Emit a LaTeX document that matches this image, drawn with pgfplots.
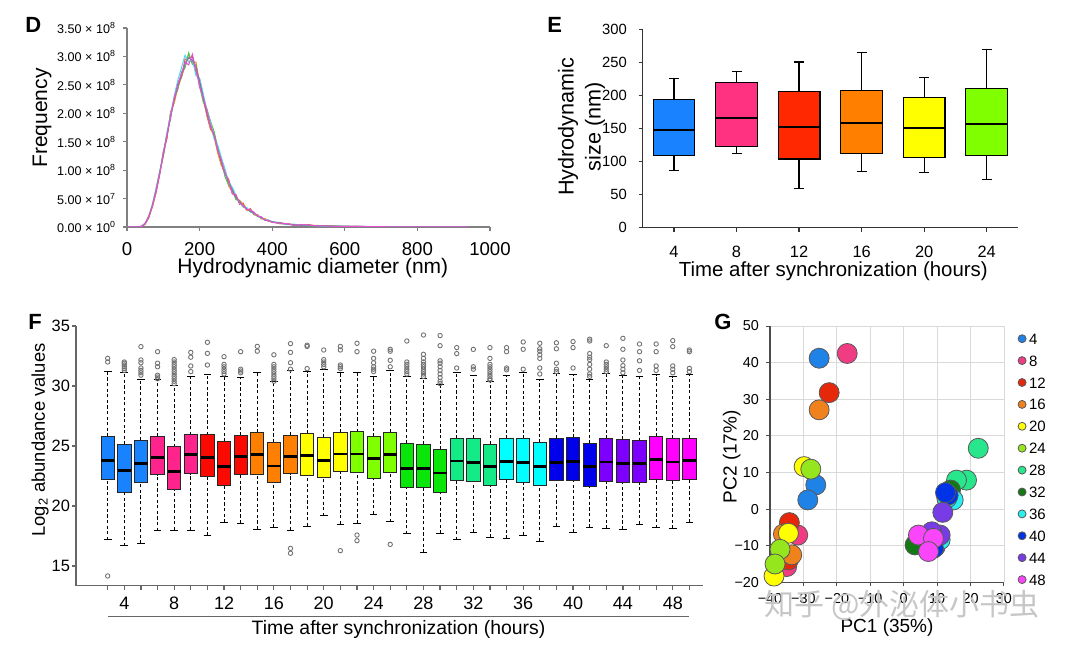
\documentclass[border=0pt]{standalone}
\usepackage{fontspec}
\setmainfont{Liberation Sans}
\newfontfamily\cjk{Noto Sans CJK SC}
\usepackage{graphicx}
\usepackage{pgfplots}
\pgfplotsset{compat=1.18}
\usepackage{pgfplotstable}
\usepgfplotslibrary{statistics}

\definecolor{c1}{RGB}{25,130,255}
\definecolor{c2}{RGB}{255,35,140}
\definecolor{c3}{RGB}{250,10,0}
\definecolor{c4}{RGB}{255,128,0}
\definecolor{c5}{RGB}{255,255,0}
\definecolor{c6}{RGB}{128,255,0}
\definecolor{c7}{RGB}{10,230,10}
\definecolor{c8}{RGB}{20,235,135}
\definecolor{c9}{RGB}{0,255,255}
\definecolor{c10}{RGB}{0,0,235}
\definecolor{c11}{RGB}{125,0,255}
\definecolor{c12}{RGB}{255,0,255}
\definecolor{e12}{RGB}{255,40,0}
\definecolor{e8}{RGB}{255,50,130}
\definecolor{g4}{RGB}{30,130,230}
\definecolor{g8}{RGB}{240,60,130}
\definecolor{g12}{RGB}{230,40,10}
\definecolor{g16}{RGB}{240,130,30}
\definecolor{g20}{RGB}{255,255,0}
\definecolor{g24}{RGB}{150,230,30}
\definecolor{g28}{RGB}{40,230,140}
\definecolor{g32}{RGB}{20,120,20}
\definecolor{g36}{RGB}{40,240,240}
\definecolor{g40}{RGB}{0,50,230}
\definecolor{g44}{RGB}{120,60,230}
\definecolor{g48}{RGB}{250,70,250}
\definecolor{dr}{RGB}{230,60,60}
\definecolor{do}{RGB}{225,150,40}
\definecolor{dg}{RGB}{70,200,80}
\definecolor{dc}{RGB}{80,215,235}
\definecolor{dp}{RGB}{140,110,160}
\definecolor{dm}{RGB}{230,80,210}

\pgfplotstableread{
x r o g c p m
0 0 0 0 0 0 0
10 0 0 0 0 0 0
20 0 0 0 0 0 0
30 0 0 0 0 0 0
40 0.00 0.01 0.01 0.02 0.01 0.01
50 0.05 0.05 0.07 0.06 0.06 0.06
60 0.16 0.20 0.19 0.17 0.18 0.18
70 0.36 0.35 0.40 0.39 0.38 0.37
80 0.60 0.62 0.66 0.68 0.64 0.63
90 0.92 0.94 0.98 0.97 0.95 0.93
100 1.33 1.24 1.25 1.30 1.27 1.29
110 1.55 1.58 1.64 1.66 1.61 1.62
120 2.02 2.00 1.90 1.98 1.94 1.93
130 2.20 2.18 2.28 2.30 2.24 2.27
140 2.55 2.44 2.42 2.58 2.47 2.50
150 2.62 2.64 2.72 2.80 2.66 2.70
160 2.95 2.82 2.80 3.02 2.87 2.90
170 2.96 3.05 3.06 2.90 2.98 2.85
180 3.00 2.88 2.86 2.95 2.93 3.04
190 2.72 2.90 2.85 2.66 2.82 2.78
200 2.60 2.52 2.48 2.62 2.56 2.46
210 2.30 2.22 2.20 2.35 2.26 2.28
220 1.96 1.98 2.08 2.05 2.00 2.06
230 1.72 1.75 1.86 1.84 1.78 1.78
240 1.64 1.58 1.68 1.55 1.61 1.62
250 1.32 1.30 1.40 1.44 1.37 1.34
260 1.10 1.08 1.20 1.22 1.14 1.18
270 0.92 0.99 0.88 1.02 0.95 0.94
280 0.84 0.72 0.74 0.80 0.79 0.82
290 0.60 0.62 0.68 0.70 0.65 0.58
300 0.55 0.50 0.48 0.56 0.52 0.57
310 0.40 0.47 0.46 0.42 0.45 0.43
320 0.42 0.40 0.35 0.36 0.37 0.37
330 0.30 0.29 0.33 0.34 0.31 0.31
340 0.32 0.29 0.26 0.27 0.28 0.30
350 0.22 0.21 0.25 0.23 0.24 0.26
360 0.21 0.22 0.18 0.20 0.19 0.19
370 0.15 0.14 0.17 0.16 0.17 0.18
380 0.14 0.15 0.12 0.13 0.12 0.12
390 0.10 0.10 0.12 0.11 0.11 0.12
400 0.09 0.09 0.08 0.10 0.09 0.08
420 0.06 0.06 0.08 0.07 0.07 0.07
440 0.06 0.05 0.05 0.04 0.05 0.06
460 0.04 0.04 0.03 0.05 0.04 0.03
480 0.03 0.035 0.04 0.03 0.03 0.04
500 0.04 0.03 0.02 0.03 0.035 0.035
520 0.02 0.03 0.025 0.02 0.02 0.02
540 0.025 0.02 0.02 0.015 0.02 0.02
560 0.015 0.015 0.02 0.01 0.015 0.015
580 0.01 0.02 0.015 0.015 0.012 0.01
600 0.012 0.01 0.01 0.015 0.012 0.012
620 0.01 0.012 0.008 0.01 0.01 0.01
640 0.008 0.01 0.01 0.008 0.009 0.01
660 0.008 0.006 0.008 0.01 0.007 0.008
680 0.006 0.007 0.005 0.006 0.006 0.006
700 0.005 0.004 0.006 0.005 0.005 0.005
720 0.004 0.004 0.003 0.004 0.004 0.004
740 0.003 0.003 0.003 0.002 0.003 0.003
760 0.003 0.002 0.003 0.003 0.002 0.003
780 0.002 0.002 0.002 0.002 0.002 0.002
800 0.002 0.001 0.002 0.002 0.001 0.002
820 0.001 0.001 0.001 0.001 0.001 0.001
840 0.001 0.001 0.001 0.001 0.001 0.001
860 0.001 0 0.001 0 0.001 0.001
880 0 0 0 0 0 0
900 0 0 0 0 0 0
920 0 0 0 0 0 0
940 0 0 0 0 0 0
}\dtable

\pgfplotsset{
  boxplot/draw/lower whisker/.code={%
    \draw[/pgfplots/boxplot/every whisker/.try]
      (boxplot cs:\pgfplotsboxplotvalue{lower whisker}) --
      (boxplot cs:\pgfplotsboxplotvalue{lower quartile});
    \draw[/pgfplots/boxplot/every cap/.try]
      (boxplot whisker cs:\pgfplotsboxplotvalue{lower whisker},0) --
      (boxplot whisker cs:\pgfplotsboxplotvalue{lower whisker},1);
  },
  boxplot/draw/upper whisker/.code={%
    \draw[/pgfplots/boxplot/every whisker/.try]
      (boxplot cs:\pgfplotsboxplotvalue{upper quartile}) --
      (boxplot cs:\pgfplotsboxplotvalue{upper whisker});
    \draw[/pgfplots/boxplot/every cap/.try]
      (boxplot whisker cs:\pgfplotsboxplotvalue{upper whisker},0) --
      (boxplot whisker cs:\pgfplotsboxplotvalue{upper whisker},1);
  },
}

\newcommand{\FB}[7]{\addplot[boxplot prepared={draw position=#1,lower whisker=#3,lower quartile=#4,median=#5,upper quartile=#6,upper whisker=#7}, boxplot/every box/.style={fill=#2,draw=black!85,line width=0.45pt}] coordinates {};}
\newcommand{\EB}[7]{\addplot[boxplot prepared={draw position=#1,lower whisker=#3,lower quartile=#4,median=#5,upper quartile=#6,upper whisker=#7}, boxplot/every box/.style={fill=#2,draw=black,line width=0.6pt}] coordinates {};}

\begin{document}
\begin{tikzpicture}
\useasboundingbox (0,0) rectangle (540pt,325.5pt);

% ---------------- Panel D ----------------
\begin{axis}[at={(63.5pt,212pt)}, anchor=south west, scale only axis,
  width=181.5pt, height=99.5pt,
  xmin=0, xmax=1000, ymin=0, ymax=3.5,
  axis lines=left, axis line style={-, gray, line width=0.7pt},
  xtick={0,200,400,600,800,1000}, xticklabels={0,200,400,600,800,1000},
  ytick={0,0.5,1,1.5,2,2.5,3,3.5},
  yticklabels={{0.00 × 10\textsuperscript{0}},{5.00 × 10\textsuperscript{7}},{1.00 × 10\textsuperscript{8}},{1.50 × 10\textsuperscript{8}},{2.00 × 10\textsuperscript{8}},{2.50 × 10\textsuperscript{8}},{3.00 × 10\textsuperscript{8}},{3.50 × 10\textsuperscript{8}}},
  scaled ticks=false,
  tick align=outside, major tick length=2pt, tick style={gray, line width=0.6pt},
  x tick label style={font=\fontsize{9.3}{10}\selectfont, yshift=-2.3pt},
  y tick label style={font=\fontsize{6.3}{7}\selectfont},
  xlabel={Hydrodynamic diameter (nm)}, ylabel={Frequency},
  label style={font=\fontsize{10.5}{11}\selectfont},
  xlabel style={at={(axis description cs:0.512,-0.205)}, anchor=center},
  ylabel style={at={(axis description cs:-0.234,0.548)}, anchor=center},
]
\addplot[dr, line width=0.5pt] table[x=x,y=r] {\dtable};
\addplot[do, line width=0.5pt] table[x=x,y=o] {\dtable};
\addplot[dg, line width=0.5pt] table[x=x,y=g] {\dtable};
\addplot[dc, line width=0.5pt] table[x=x,y=c] {\dtable};
\addplot[dp, line width=0.5pt] table[x=x,y=p] {\dtable};
\addplot[dm, line width=0.5pt] table[x=x,y=m] {\dtable};
\end{axis}

% ---------------- Panel E ----------------
\begin{axis}[at={(321.35pt,211.65pt)}, anchor=south west, scale only axis,
  width=187.65pt, height=99.2pt,
  xmin=0.5, xmax=6.5, ymin=0, ymax=300,
  axis lines=left, axis line style={-, black!80, line width=0.6pt},
  xtick={1,...,6}, xticklabels={4,8,12,16,20,24}, ytick={0,50,...,300},
  tick align=outside, major tick length=2pt, tick style={black!80, line width=0.6pt},
  /pgf/number format/assume math mode=true,
  x tick label style={font=\fontsize{8.2}{9}\selectfont, yshift=-3.8pt},
  y tick label style={font=\fontsize{7.4}{8}\selectfont, xshift=-2.4pt},
  xlabel={Time after synchronization (hours)},
  ylabel={Hydrodynamic\\size (nm)},
  xlabel style={font=\fontsize{10.2}{11}\selectfont, at={(axis description cs:0.508,-0.217)}, anchor=center},
  ylabel style={font=\fontsize{10.8}{13.5}\selectfont, align=center, at={(axis description cs:-0.163,0.508)}, anchor=center},
  boxplot/draw direction=y,
  boxplot/box extend=0.667, boxplot/whisker extend=0.16,
  boxplot/every median/.style={black, line width=0.8pt},
  boxplot/every whisker/.style={black, line width=0.6pt},
  boxplot/every cap/.style={black, line width=0.6pt},
]
\EB{1}{c1}{87}{109}{148}{194}{225}
\EB{2}{e8}{112}{122.5}{166}{219}{236.5}
\EB{3}{e12}{59}{104}{152}{206}{250.6}
\EB{4}{c4}{85}{112}{158}{208}{264.7}
\EB{5}{c5}{83}{106}{151}{197}{227}
\EB{6}{c6}{73}{109}{157}{211}{270}
\end{axis}

% ---------------- Panel F ----------------
\begin{axis}[at={(38pt,32.65pt)}, anchor=south west, scale only axis,
  width=313.5pt, height=129.85pt,
  xmin=-0.907, xmax=36.82, ymin=13.36, ymax=35,
  axis lines=left, axis line style={-, black!60, line width=0.7pt},
  xtick={1,...,36},
  xticklabels={{},4,{},{},8,{},{},12,{},{},16,{},{},20,{},{},24,{},{},28,{},{},32,{},{},36,{},{},40,{},{},44,{},{},48,{}},
  ytick={15,20,25,30,35},
  tick align=outside, major tick length=2pt, tick style={black!60, line width=0.6pt},
  /pgf/number format/assume math mode=true,
  x tick label style={font=\fontsize{9}{10}\selectfont},
  y tick label style={font=\fontsize{8.2}{9}\selectfont, xshift=2.5pt},
  ylabel={Log\textsubscript{2} abundance values},
  ylabel style={font=\fontsize{9.2}{10}\selectfont, at={(axis description cs:-0.0574,0.561)}, anchor=center},
  clip=false,
  boxplot/draw direction=y,
  boxplot/box extend=0.8, boxplot/whisker extend=0.46,
  boxplot/every median/.style={black, line width=1.4pt},
  boxplot/every whisker/.style={black, dash pattern=on 1.6pt off 1.2pt, line width=0.45pt},
  boxplot/every cap/.style={black, line width=0.5pt},
]
\FB{1}{c1}{17.17}{22.22}{23.78}{25.78}{31.19}
\FB{2}{c1}{16.69}{21.14}{22.97}{25.11}{31.11}
\FB{3}{c1}{16.89}{21.94}{23.56}{25.50}{30.58}
\FB{4}{c2}{17.94}{22.61}{24.06}{25.78}{30.50}
\FB{5}{c2}{18.00}{21.42}{22.86}{24.94}{30.00}
\FB{6}{c2}{18.00}{22.69}{24.28}{25.94}{30.78}
\FB{7}{c3}{17.53}{22.50}{24.03}{25.94}{30.92}
\FB{8}{c3}{18.64}{21.69}{23.28}{25.36}{30.83}
\FB{9}{c3}{18.56}{22.67}{24.14}{25.89}{30.70}
\FB{10}{c4}{18.06}{22.67}{24.31}{26.14}{31.11}
\FB{11}{c4}{18.22}{21.97}{23.33}{25.31}{30.36}
\FB{12}{c4}{18.00}{22.69}{24.14}{25.92}{31.25}
\FB{13}{c5}{18.33}{22.58}{24.19}{26.06}{31.20}
\FB{14}{c5}{19.17}{22.39}{23.81}{25.72}{31.39}
\FB{15}{c5}{18.50}{22.86}{24.33}{26.11}{31.14}
\FB{16}{c6}{18.56}{22.81}{24.33}{26.19}{31.11}
\FB{17}{c6}{19.33}{22.31}{23.94}{25.78}{30.83}
\FB{18}{c6}{18.67}{22.83}{24.28}{26.17}{31.28}
\FB{19}{c7}{17.67}{21.53}{23.14}{25.22}{30.83}
\FB{20}{c7}{16.14}{21.53}{23.14}{25.11}{30.64}
\FB{21}{c7}{17.72}{21.11}{22.75}{24.72}{30.14}
\FB{22}{c8}{17.17}{22.11}{23.75}{25.64}{31.11}
\FB{23}{c8}{17.78}{22.08}{23.61}{25.67}{30.89}
\FB{24}{c8}{17.39}{21.72}{23.28}{25.17}{30.36}
\FB{25}{c9}{17.28}{22.22}{23.72}{25.64}{30.89}
\FB{26}{c9}{17.58}{21.97}{23.61}{25.61}{31.11}
\FB{27}{c9}{17.03}{21.72}{23.28}{25.28}{30.58}
\FB{28}{c10}{18.33}{22.17}{23.64}{25.67}{31.00}
\FB{29}{c10}{17.78}{22.14}{23.72}{25.72}{30.92}
\FB{30}{c10}{18.22}{21.61}{23.28}{25.22}{30.56}
\FB{31}{c11}{18.11}{22.03}{23.67}{25.64}{31.00}
\FB{32}{c11}{18.06}{21.94}{23.56}{25.56}{30.89}
\FB{33}{c11}{18.50}{21.94}{23.56}{25.44}{30.78}
\FB{34}{c12}{18.19}{22.25}{23.89}{25.78}{30.92}
\FB{35}{c12}{18.14}{22.14}{23.67}{25.64}{30.78}
\FB{36}{c12}{18.61}{22.22}{23.81}{25.67}{30.92}
\addplot[only marks, mark=o, mark size=1.1pt, black!55, line width=0.45pt] coordinates {
(1,32.3) (1,32.0) (1,14.17)
(2,31.3) (2,31.45) (2,31.6) (2,31.75) (2,31.9) (2,32.0)
(3,33.28) (3,32.17) (3,31.94) (3,31.5) (3,31.3) (3,31.1) (3,30.9)
(4,32.86) (4,31.9) (4,31.6) (4,30.9) (4,30.75) (4,30.6)
(5,32.2) (5,32.0) (5,31.8) (5,31.6) (5,31.4) (5,31.2) (5,31.0) (5,30.8) (5,30.6) (5,30.4) (5,30.2)
(6,32.8) (6,32.4) (6,31.67) (6,31.2)
(7,33.64) (7,32.72) (7,31.75)
(8,32.44) (8,31.8) (8,31.6) (8,31.4) (8,31.2) (8,31.0)
(9,32.86) (9,31.4) (9,31.25) (9,31.1)
(10,33.3) (10,32.9)
(11,32.6) (11,31.8) (11,31.6) (11,31.4) (11,31.2) (11,31.0) (11,30.8) (11,30.6) (11,30.4)
(12,33.53) (12,32.8) (12,31.94) (12,31.4) (12,16.47) (12,16.06)
(13,33.4) (13,33.3) (13,31.45)
(14,33.0) (14,32.2) (14,32.0) (14,31.8) (14,31.6)
(15,33.3) (15,33.0) (15,31.75) (15,31.6) (15,31.45) (15,16.28)
(16,33.56) (16,32.86) (16,17.58) (16,17.11)
(17,32.9) (17,32.3) (17,31.94) (17,31.6) (17,31.4) (17,31.2)
(18,33.06) (18,32.9) (18,32.14) (18,31.6) (18,16.8)
(19,33.75) (19,32.0) (19,31.8) (19,31.6) (19,31.4) (19,31.2) (19,31.0)
(20,34.25) (20,32.64) (20,32.3) (20,32.0) (20,31.8) (20,31.6) (20,31.4) (20,31.2) (20,31.0) (20,30.8)
(21,34.2) (21,33.36) (21,32.1) (21,31.9) (21,31.6) (21,31.3) (21,31.0) (21,30.7) (21,30.4) (21,30.2)
(22,33.2) (22,32.7) (22,31.5)
(23,33.05) (23,31.6) (23,31.4)
(24,33.2) (24,32.3) (24,31.8) (24,31.6) (24,31.4) (24,31.2) (24,31.0) (24,30.8) (24,30.6) (24,30.5)
(25,33.2) (25,32.86) (25,31.5) (25,31.35)
(26,33.67) (26,33.06) (26,31.4)
(27,33.56) (27,33.1) (27,32.9) (27,32.6) (27,32.3) (27,31.5) (27,31.0)
(28,33.6) (28,33.1) (28,31.9) (28,31.4) (28,31.2)
(29,33.7) (29,33.2) (29,31.5)
(30,33.9) (30,33.75) (30,32.7) (30,32.4) (30,32.2) (30,31.8) (30,31.4) (30,31.0) (30,30.8)
(31,33.36) (31,32.0) (31,31.8) (31,31.6) (31,31.4) (31,31.2)
(32,33.97) (32,33.06) (32,32.17) (32,31.7) (32,31.4) (32,31.1)
(33,33.5) (33,32.86) (33,32.1) (33,31.3)
(34,33.5) (34,32.86) (34,31.67) (34,31.3)
(35,33.78) (35,33.28) (35,31.67) (35,31.4) (35,31.1)
(36,33.0) (36,32.86) (36,31.47) (36,31.2)
};
\draw[black!60, line width=0.7pt] (axis cs:1,10.78) -- (axis cs:36,10.78);
\node[font=\fontsize{9.7}{10}\selectfont] at (axis cs:18.5,9.67) {Time after synchronization (hours)};
\end{axis}

% ---------------- Panel G ----------------
\begin{axis}[at={(385pt,34.35pt)}, anchor=south west, scale only axis,
  width=117pt, height=128.15pt,
  xmin=-40, xmax=30, ymin=-20, ymax=50,
  axis lines=left, axis line style={-, black!70, line width=0.6pt},
  grid=major, grid style={gray!30, line width=0.4pt},
  xtick={-40,-30,...,30}, xticklabels={−40,−30,−20,−10,0,10,20,30},
  ytick={-20,-10,...,50}, yticklabels={−20,−10,0,10,20,30,40,50},
  tick align=outside, major tick length=2pt, tick style={black!70, line width=0.5pt},
  tick label style={font=\fontsize{7.2}{8}\selectfont},
  xlabel={PC1 (35\%)}, ylabel={PC2 (17\%)},
  label style={font=\fontsize{9.5}{10}\selectfont},
  xlabel style={at={(axis description cs:0.5,-0.178)}, anchor=center},
  ylabel style={at={(axis description cs:-0.164,0.49)}, anchor=center},
  clip=false,
  legend style={at={(1.0585,0.9735)}, anchor=north west, draw=none, fill=none,
    inner sep=0pt, row sep=5.45pt, column sep=1.5pt,
    font=\fontsize{7.5}{8}\selectfont,
    nodes={inner sep=0pt, text height=5.5pt, text depth=0pt}},
  legend cell align=left,
  legend image code/.code={\draw[#1, mark size=2pt] plot coordinates {(0pt,0pt)};},
  gmark/.style={only marks, mark=*, mark size=5pt, mark options={fill=#1, draw=black!65, line width=0.4pt}},
]
\addplot[gmark=g4] coordinates {(-25.3,41.2) (-26.3,6.6) (-28.7,2.5)};
\addlegendentry{4}
\addplot[gmark=g8] coordinates {(-16.9,42.5) (-31.7,-7.1) (-35.0,-15.7)};
\addlegendentry{8}
\addplot[gmark=g12] coordinates {(-22.3,31.8) (-34.2,-3.7) (-34.5,-13.9)};
\addlegendentry{12}
\addplot[gmark=g16] coordinates {(-25.3,27.1) (-36.0,-6.8) (-33.5,-12.5)};
\addlegendentry{16}
\addplot[gmark=g20] coordinates {(-29.8,11.6) (-34.5,-6.6) (-38.8,-18.3)};
\addlegendentry{20}
\addplot[gmark=g24] coordinates {(-27.8,10.9) (-37.0,-11.0) (-38.5,-15.0)};
\addlegendentry{24}
\addplot[gmark=g28] coordinates {(22.3,16.6) (18.8,7.9) (15.8,7.9)};
\addlegendentry{28}
\addplot[gmark=g32] coordinates {(14.0,5.2) (3.4,-9.8) (9.4,-10.3)};
\addlegendentry{32}
\addplot[gmark=g36] coordinates {(14.8,2.5) (10.9,-8.4) (12.9,3.0)};
\addlegendentry{36}
\addplot[gmark=g40] coordinates {(13.3,3.8) (8.9,-10.7) (12.5,4.5)};
\addlegendentry{40}
\addplot[gmark=g44] coordinates {(11.7,-0.9) (10.9,-7.1) (8.4,-6.2)};
\addlegendentry{44}
\addplot[gmark=g48] coordinates {(4.4,-7.1) (8.9,-8.0) (7.4,-11.6)};
\addlegendentry{48}
\end{axis}

% panel letters
\node[font=\bfseries\fontsize{11}{12}\selectfont] at (16.6pt,312.8pt) {D};
\node[font=\bfseries\fontsize{11}{12}\selectfont] at (277.3pt,312.8pt) {E};
\node[font=\bfseries\fontsize{11}{12}\selectfont] at (17.5pt,164.7pt) {F};
\node[font=\bfseries\fontsize{11}{12}\selectfont] at (361.5pt,164.7pt) {G};

% watermark
\node[text=gray!45, font=\cjk\fontsize{15}{15}\selectfont] at (451pt,23pt) {知乎 @外泌体小书虫};
\end{tikzpicture}
\end{document}
